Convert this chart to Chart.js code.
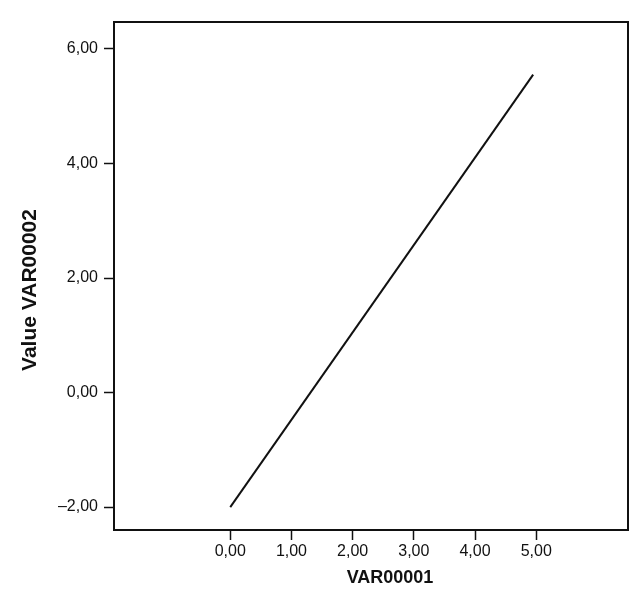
<!DOCTYPE html>
<html lang="ru">
<head>
  <meta charset="UTF-8">
  <title>VAR00001 / VAR00002</title>
  <script src="https://cdn.jsdelivr.net/npm/chart.js"></script>
  <style>
    body {
      margin: 0;
      background: #ffffff;
    }
    canvas {
      display: block;
    }
  </style>
</head>
<body>

  <canvas id="lineChart" width="630" height="589"></canvas>

  <script>
    // values
    const var1 = [0, 4.95];
    const var2 = [-2.0, 5.55];

    const xTicks = [0, 1, 2, 3, 4, 5];
    const yTicks = [-2, 0, 2, 4, 6];

    const xTitle = 'VAR00001';
    const yTitle = 'Value VAR00002';

    const fmt = v => (v < 0 ? '–' : '') + Math.abs(v).toFixed(2).replace('.', ',');

    const points = var1.map((x, i) => ({ x: x, y: var2[i] }));

    // box round the plot + axis titles
    const frame = {
      id: 'frame',
      afterDraw(chart) {
        const { ctx, chartArea: a } = chart;
        ctx.save();
        ctx.strokeStyle = '#111';
        ctx.lineWidth = 2;
        ctx.strokeRect(a.left, a.top, a.right - a.left, a.bottom - a.top);

        ctx.fillStyle = '#111';
        ctx.textAlign = 'center';
        ctx.textBaseline = 'middle';
        ctx.font = 'bold 18px "Liberation Sans", Arial, sans-serif';
        ctx.fillText(xTitle, 390, 578);

        ctx.translate(30, 290);
        ctx.rotate(-Math.PI / 2);
        ctx.font = 'bold 21px "Liberation Sans", Arial, sans-serif';
        ctx.fillText(yTitle, 0, 0);
        ctx.restore();
      }
    };

    const tickFont = { family: '"Liberation Sans", Arial, sans-serif', size: 16 };

    new Chart(document.getElementById('lineChart'), {
      type: 'scatter',
      data: {
        datasets: [{
          data: points,
          showLine: true,
          borderColor: '#111',
          borderWidth: 2,
          pointRadius: 0
        }]
      },
      options: {
        responsive: false,
        animation: false,
        layout: { padding: { top: 22, right: 2, left: 0, bottom: 0 } },
        plugins: {
          legend: { display: false },
          tooltip: { enabled: false }
        },
        scales: {
          x: {
            type: 'linear',
            min: -1.9,
            max: 6.5,
            afterBuildTicks: s => { s.ticks = xTicks.map(v => ({ value: v })); },
            afterFit: s => { s.height = 59; },
            grid: { drawOnChartArea: false, drawTicks: true, tickLength: 10, tickColor: '#111', tickWidth: 1.5 },
            border: { display: true, color: '#111', width: 2 },
            ticks: { color: '#111', font: tickFont, padding: 2, maxRotation: 0, callback: fmt }
          },
          y: {
            type: 'linear',
            min: -2.4,
            max: 6.47,
            afterBuildTicks: s => { s.ticks = yTicks.map(v => ({ value: v })); },
            afterFit: s => { s.width = 114; },
            grid: { drawOnChartArea: false, drawTicks: true, tickLength: 10, tickColor: '#111', tickWidth: 1.5 },
            border: { display: true, color: '#111', width: 2 },
            ticks: { color: '#111', font: tickFont, padding: 6, callback: fmt }
          }
        }
      },
      plugins: [frame]
    });
  </script>

</body>
</html>
